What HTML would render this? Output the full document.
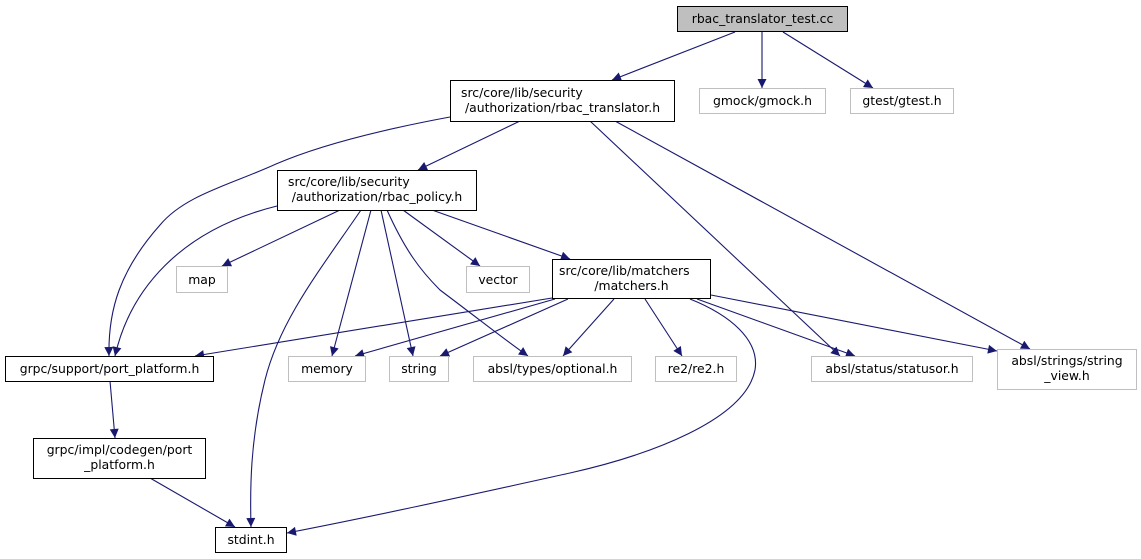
<!DOCTYPE html>
<html><head><meta charset="utf-8"><style>
html,body{margin:0;padding:0;background:#fff;}
svg{display:block;}
text{font-family:"DejaVu Sans","Liberation Sans",sans-serif;font-size:12.4px;fill:#000;}
</style></head><body>
<svg width="1141" height="559" viewBox="0 0 1141 559" xmlns="http://www.w3.org/2000/svg">
<defs>
<marker id="a" viewBox="0 0 10 10" refX="10" refY="5" markerWidth="11" markerHeight="9" orient="auto" markerUnits="userSpaceOnUse">
<path d="M0,0 L10,5 L0,10 z" fill="#191970"/>
</marker>
</defs>
<g fill="none" stroke="#191970" stroke-width="1.1" marker-end="url(#a)">
<path d="M735,32 L612,80"/>
<path d="M762,32 L762,88"/>
<path d="M783,32 L873,88"/>
<path d="M520,121 L418,170"/>
<path d="M450,117 C380,130 320,145 276,164 C230,185 185,195 160,225 C120,270 108,310 109,356"/>
<path d="M590,121 L840,356"/>
<path d="M615,121 L1030,349"/>
<path d="M277,206 C180,230 130,290 115,356"/>
<path d="M340,210 L222,266"/>
<path d="M361,210 C320,270 280,320 265,380 C250,440 250,490 251,527"/>
<path d="M371,210 L332,356"/>
<path d="M381,210 L413,356"/>
<path d="M387,210 C405,250 420,270 440,290 C480,320 505,340 528,356"/>
<path d="M403,210 L480,266"/>
<path d="M432,210 L570,259"/>
<path d="M552,298 L195,356"/>
<path d="M555,299 L355,356"/>
<path d="M568,299 L440,356"/>
<path d="M614,299 L563,356"/>
<path d="M645,299 L682,356"/>
<path d="M690,299 C730,315 760,340 755,370 C745,420 650,455 570,473 C470,495 380,515 287,533"/>
<path d="M697,299 L855,356"/>
<path d="M711,295 L997,351"/>
<path d="M150,478 L235,527"/>
<path d="M110,381 L115,438"/>
</g>
<g stroke-width="1">
<rect x="677.5" y="6.5" width="170" height="25" fill="#bfbfbf" stroke="#000"/>
<rect x="450.5" y="80.5" width="224" height="41" fill="#fff" stroke="#000"/>
<rect x="699.5" y="88.5" width="126" height="25" fill="#fff" stroke="#bfbfbf"/>
<rect x="850.5" y="88.5" width="103" height="25" fill="#fff" stroke="#bfbfbf"/>
<rect x="277.5" y="170.5" width="199" height="40" fill="#fff" stroke="#000"/>
<rect x="176.5" y="266.5" width="51" height="26" fill="#fff" stroke="#bfbfbf"/>
<rect x="466.5" y="266.5" width="63" height="26" fill="#fff" stroke="#bfbfbf"/>
<rect x="552.5" y="259.5" width="158" height="39" fill="#fff" stroke="#000"/>
<rect x="5.5" y="356.5" width="208" height="25" fill="#fff" stroke="#000"/>
<rect x="288.5" y="356.5" width="77" height="25" fill="#fff" stroke="#bfbfbf"/>
<rect x="389.5" y="356.5" width="59" height="25" fill="#fff" stroke="#bfbfbf"/>
<rect x="473.5" y="356.5" width="158" height="25" fill="#fff" stroke="#bfbfbf"/>
<rect x="655.5" y="356.5" width="81" height="25" fill="#fff" stroke="#bfbfbf"/>
<rect x="811.5" y="356.5" width="161" height="25" fill="#fff" stroke="#bfbfbf"/>
<rect x="997.5" y="349.5" width="139" height="40" fill="#fff" stroke="#bfbfbf"/>
<rect x="33.5" y="438.5" width="172" height="40" fill="#fff" stroke="#000"/>
<rect x="215.5" y="527.5" width="71" height="25" fill="#fff" stroke="#000"/>
</g>
<g text-anchor="middle">
<text x="762.5" y="23">rbac_translator_test.cc</text>
<text x="461" y="97" text-anchor="start">src/core/lib/security</text>
<text x="562.5" y="112">/authorization/rbac_translator.h</text>
<text x="762.5" y="105">gmock/gmock.h</text>
<text x="902" y="105">gtest/gtest.h</text>
<text x="288" y="186" text-anchor="start">src/core/lib/security</text>
<text x="377" y="201">/authorization/rbac_policy.h</text>
<text x="202" y="284">map</text>
<text x="498" y="284">vector</text>
<text x="559" y="275" text-anchor="start">src/core/lib/matchers</text>
<text x="631.5" y="290">/matchers.h</text>
<text x="109.5" y="373">grpc/support/port_platform.h</text>
<text x="327" y="373">memory</text>
<text x="419" y="373">string</text>
<text x="552.5" y="373">absl/types/optional.h</text>
<text x="696" y="373">re2/re2.h</text>
<text x="892" y="373">absl/status/statusor.h</text>
<text x="1067" y="365">absl/strings/string</text>
<text x="1067" y="380">_view.h</text>
<text x="119.5" y="454">grpc/impl/codegen/port</text>
<text x="119.5" y="469">_platform.h</text>
<text x="251" y="544">stdint.h</text>
</g>
</svg>
</body></html>
